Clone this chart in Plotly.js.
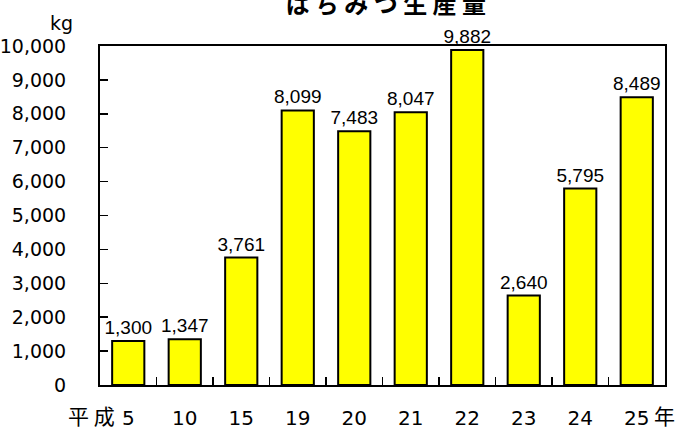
<!DOCTYPE html>
<html><head><meta charset="utf-8">
<script src="https://cdn.plot.ly/plotly-3.0.1.min.js"></script>
<style>body{margin:0;padding:0;background:#fff}</style>
</head><body>
<div id="chart" style="width:695px;height:432px"></div>
<script>
const categories = ["5","10","15","19","20","21","22","23","24","25"];
const values = [1300,1347,3761,8099,7483,8047,9882,2640,5795,8489];
const valueLabels = ["1,300","1,347","3,761","8,099","7,483","8,047","9,882","2,640","5,795","8,489"];
const yTicks = [0,1000,2000,3000,4000,5000,6000,7000,8000,9000,10000];
const yTickLabels = ["0","1,000","2,000","3,000","4,000","5,000","6,000","7,000","8,000","9,000","10,000"];
const titleText = "はちみつ生産量";
const unitText = "kg";
const eraText = "平 成";
const yearText = "年";

const CJK = "'Noto Sans CJK JP', sans-serif";
const NUM = "'DejaVu Sans', sans-serif";
const LAB = "'Liberation Sans', Arial, sans-serif";

const trace = {
  type: "bar",
  x: categories,
  y: values,
  text: valueLabels,
  textposition: "outside",
  constraintext: "none",
  cliponaxis: false,
  textfont: {family: LAB, size: 19, color: "#000"},
  marker: {color: "#ffff00", line: {color: "#000", width: 2}},
  width: 0.57,
  hoverinfo: "none"
};

const layout = {
  width: 695, height: 432,
  margin: {l: 100, r: 30, t: 46, b: 47},
  paper_bgcolor: "#fff", plot_bgcolor: "#fff",
  showlegend: false,
  font: {family: LAB, color: "#000"},
  title: {text: "<b>" + titleText.split("").join(" ") + "</b>", font: {family: CJK, size: 24, color: "#000"}, x: 0.555, xanchor: "center", y: 0.99, yanchor: "middle"},
  xaxis: {
    type: "category",
    range: [-0.5, categories.length - 0.5],
    showline: true, linecolor: "#000", linewidth: 2, mirror: true,
    ticks: "inside", ticklen: 8, tickwidth: 1.5, tickcolor: "#000",
    tickson: "boundaries",
    tickangle: 0,
    tickfont: {family: NUM, size: 20, color: "#000"},
    ticklabelstandoff: 14,
    showgrid: false, zeroline: false, fixedrange: true
  },
  yaxis: {
    range: [0, 10000],
    tickvals: yTicks, ticktext: yTickLabels,
    showline: true, linecolor: "#000", linewidth: 2, mirror: true,
    ticks: "inside", ticklen: 8, tickwidth: 1.5, tickcolor: "#000",
    tickfont: {family: NUM, size: 19, color: "#000"},
    ticklabelstandoff: 28,
    showgrid: false, zeroline: false, fixedrange: true
  },
  annotations: [
    {text: unitText, xref: "paper", yref: "paper", x: -0.044, y: 1.0, xanchor: "right", yanchor: "bottom", yshift: 10, showarrow: false, font: {family: NUM, size: 19, color: "#000"}},
    {text: eraText, xref: "x", yref: "paper", x: 0, y: 0, xanchor: "right", yanchor: "top", xshift: -11, yshift: -13, showarrow: false, font: {family: CJK, size: 21, color: "#000"}},
    {text: yearText, xref: "x", yref: "paper", x: categories.length - 1, y: 0, xanchor: "left", yanchor: "top", xshift: 15, yshift: -13, showarrow: false, font: {family: CJK, size: 21, color: "#000"}}
  ]
};

Plotly.newPlot("chart", [trace], layout, {displayModeBar: false, staticPlot: true});
</script>
</body></html>
